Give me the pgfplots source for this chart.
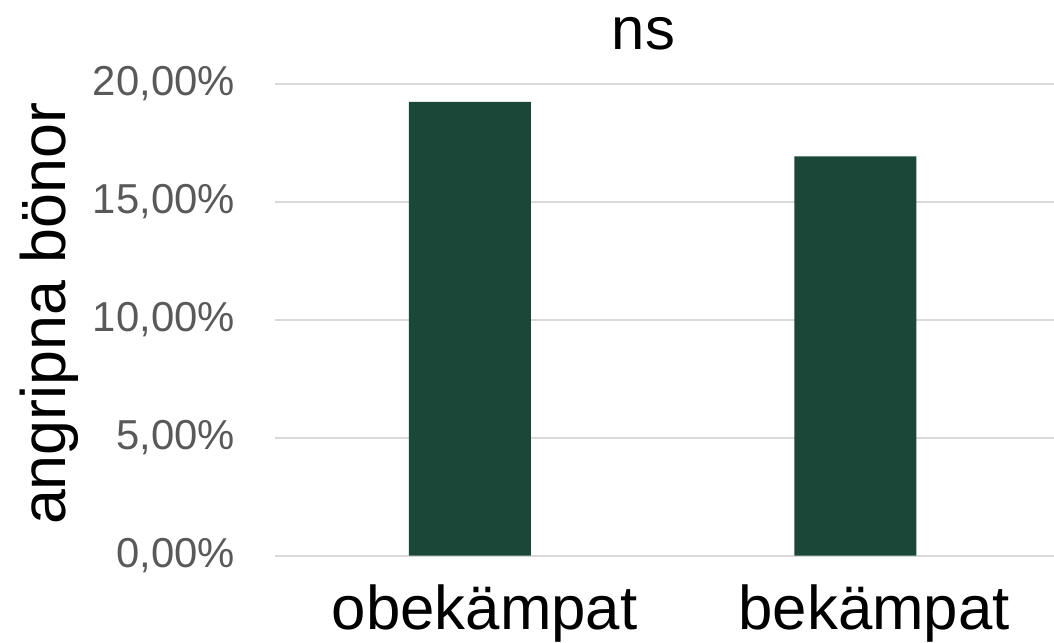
\documentclass[border=0pt]{standalone}
\usepackage{pgfplots}
\pgfplotsset{compat=1.18}
\usepackage{fontspec}
\setmainfont{Liberation Sans}
\definecolor{bargreen}{RGB}{26,71,55}
\definecolor{ticktext}{RGB}{89,89,89}
\definecolor{gridgray}{RGB}{217,217,217}
\begin{document}
\begin{tikzpicture}
\path[use as bounding box] (0,0) rectangle (1054bp,643bp);
\begin{axis}[
  at={(275bp,87.3bp)}, anchor=south west,
  scale only axis, width=779bp, height=471.7bp,
  ymin=0, ymax=20, xmin=-0.5, xmax=1.5,
  ybar, bar width=122bp,
  axis line style={draw=none},
  major tick length=0pt,
  ymajorgrids, grid style={gridgray, line width=1.6bp},
  ytick={0,5,10,15,20},
  yticklabels={{0,00\%},{5,00\%},{10,00\%},{15,00\%},{20,00\%}},
  yticklabel style={font=\fontsize{42}{50}\selectfont, text=ticktext, anchor=east, inner sep=0pt, xshift=-40bp},
  xtick={0,1}, xticklabels={obekämpat,bekämpat},
  xticklabel style={font=\fontsize{62}{70}\selectfont, anchor=base, inner sep=0pt, yshift=-74bp, xshift=15bp},
  title={ns},
  title style={font=\fontsize{60}{68}\selectfont, at={(axis description cs:0.5,1)}, anchor=base, inner sep=0pt, text height=40bp, text depth=0pt, yshift=29bp, xshift=-21bp},
  ylabel={angripna bönor},
  ylabel style={font=\fontsize{63}{70}\selectfont, at={(axis description cs:0,0.5)}, anchor=center, inner sep=0pt, yshift=226bp, xshift=6bp},
]
\addplot[fill=bargreen, draw=none] coordinates {(0,19.24) (0.99,16.93)};
\end{axis}
\end{tikzpicture}
\end{document}
